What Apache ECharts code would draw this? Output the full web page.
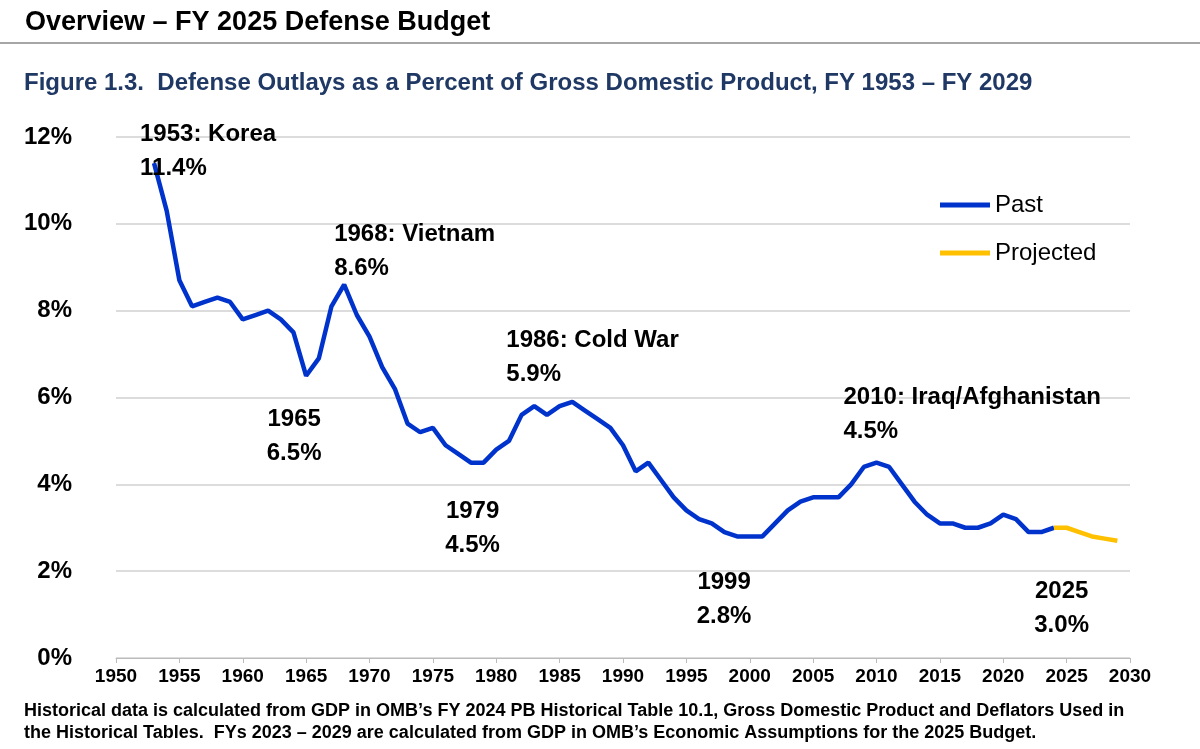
<!DOCTYPE html><html><head><meta charset="utf-8"><script src="https://cdn.jsdelivr.net/npm/echarts@6/dist/echarts.min.js"></script>
<style>body{margin:0}#c{width:1200px;height:749px}</style></head><body><div id="c"></div><script>
const pastYears=[1953,1954,1955,1956,1957,1958,1959,1960,1961,1962,1963,1964,1965,1966,1967,1968,1969,1970,1971,1972,1973,1974,1975,1976,1977,1978,1979,1980,1981,1982,1983,1984,1985,1986,1987,1988,1989,1990,1991,1992,1993,1994,1995,1996,1997,1998,1999,2000,2001,2002,2003,2004,2005,2006,2007,2008,2009,2010,2011,2012,2013,2014,2015,2016,2017,2018,2019,2020,2021,2022,2023,2024];
const pastValues=[11.4,10.3,8.7,8.1,8.2,8.3,8.2,7.8,7.9,8.0,7.8,7.5,6.5,6.9,8.1,8.6,7.9,7.4,6.7,6.2,5.4,5.2,5.3,4.9,4.7,4.5,4.5,4.8,5.0,5.6,5.8,5.6,5.8,5.9,5.7,5.5,5.3,4.9,4.3,4.5,4.1,3.7,3.4,3.2,3.1,2.9,2.8,2.8,2.8,3.1,3.4,3.6,3.7,3.7,3.7,4.0,4.4,4.5,4.4,4.0,3.6,3.3,3.1,3.1,3.0,3.0,3.1,3.3,3.2,2.9,2.9,3.0];
const projYears=[2024,2025,2026,2027,2028,2029];
const projValues=[3.0,3.0,2.9,2.8,2.75,2.7];
const notes=[
 {year:1953,value:11.4,text:'1953: Korea\n11.4%',off:[-14,-12],align:'left'},
 {year:1968,value:8.6,text:'1968: Vietnam\n8.6%',off:[-10,-33],align:'left'},
 {year:1965,value:6.5,text:'1965\n6.5%',off:[-12,61],align:'center'},
 {year:1979,value:4.5,text:'1979\n4.5%',off:[-11,66],align:'center'},
 {year:1986,value:5.9,text:'1986: Cold War\n5.9%',off:[-66,-44],align:'left'},
 {year:1999,value:2.8,text:'1999\n2.8%',off:[-13,63],align:'center'},
 {year:2010,value:4.5,text:'2010: Iraq/Afghanistan\n4.5%',off:[-33,-48],align:'left'},
 {year:2025,value:3.0,text:'2025\n3.0%',off:[-5,81],align:'center'}
];
const F='Arial, "Liberation Sans", sans-serif';
const ch=echarts.init(document.getElementById('c'));
ch.setOption({
 animation:false,
 textStyle:{fontFamily:F},
 title:[
  {text:'Overview – FY 2025 Defense Budget',left:20,top:4,textStyle:{fontSize:27,fontWeight:'bold',color:'#000',fontFamily:F}},
  {text:'Figure 1.3.  Defense Outlays as a Percent of Gross Domestic Product, FY 1953 – FY 2029',left:19,top:66,textStyle:{fontSize:24,fontWeight:'bold',color:'#1F3864',fontFamily:F}},
  {text:'Historical data is calculated from GDP in OMB’s FY 2024 PB Historical Table 10.1, Gross Domestic Product and Deflators Used in\nthe Historical Tables.  FYs 2023 – 2029 are calculated from GDP in OMB’s Economic Assumptions for the 2025 Budget.',left:19,top:695,textStyle:{fontSize:18,fontWeight:'bold',color:'#000',lineHeight:22,fontFamily:F}}
 ],
 graphic:[{type:'line',shape:{x1:0,y1:43,x2:1200,y2:43},style:{stroke:'#888',lineWidth:1.5}}],
 legend:{orient:'vertical',left:935,top:188,itemGap:24,itemWidth:50,itemHeight:5,icon:'rect',
  textStyle:{fontSize:24,color:'#000',fontFamily:F},data:['Past','Projected']},
 grid:{left:116,right:70,top:137,bottom:91},
 xAxis:{type:'value',min:1950,max:2030,interval:5,
  axisLine:{lineStyle:{color:'#bbb'}},axisTick:{show:true,lineStyle:{color:'#bbb'}},splitLine:{show:false},
  axisLabel:{formatter:v=>String(v),fontSize:19,fontWeight:'bold',color:'#000',margin:9}},
 yAxis:{type:'value',min:0,max:12,interval:2,
  axisLabel:{formatter:'{value}%',fontSize:24,fontWeight:'bold',color:'#000',margin:44},
  axisLine:{show:false},axisTick:{show:false},splitLine:{lineStyle:{color:'#d0d0d0',width:1.5}}},
 series:[
  {name:'Past',type:'line',data:pastYears.map((y,i)=>[y,pastValues[i]]),showSymbol:false,
   lineStyle:{color:'#0033CC',width:4.5},itemStyle:{color:'#0033CC'},z:3,
   markPoint:{symbol:'circle',symbolSize:0,data:notes.map(n=>({coord:[n.year,n.value],value:n.value,
     label:{show:true,formatter:n.text,position:'inside',offset:n.off,align:n.align,verticalAlign:'middle',
      fontSize:24,fontWeight:'bold',color:'#000',lineHeight:34,fontFamily:F}}))}},
  {name:'Projected',type:'line',data:projYears.map((y,i)=>[y,projValues[i]]),showSymbol:false,
   lineStyle:{color:'#FFC000',width:4.5},itemStyle:{color:'#FFC000'},z:4}
 ]
});
</script></body></html>
